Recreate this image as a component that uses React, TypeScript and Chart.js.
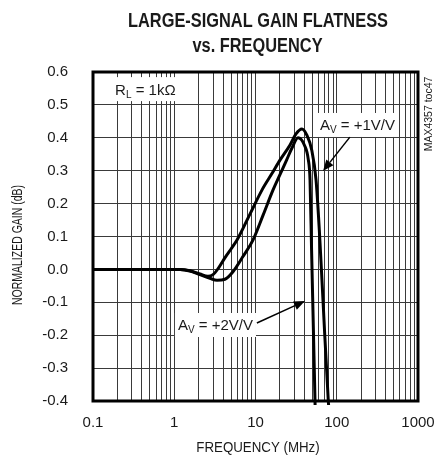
import React, { useEffect, useRef } from 'react';
import { Chart, registerables } from 'chart.js';

Chart.register(...registerables);

// ---------- text ----------
const titleLines = ['LARGE-SIGNAL GAIN FLATNESS', 'vs. FREQUENCY'];
const xAxisTitle = 'FREQUENCY (MHz)';
const yAxisTitle = 'NORMALIZED GAIN (dB)';
const sideNote = 'MAX4357 toc47';

// ---------- axes ----------
const xMin = 0.1;
const xMax = 1000;
const xDecades = [0.1, 1, 10, 100, 1000];
const xTickLabels = ['0.1', '1', '10', '100', '1000'];
const yMin = -0.4;
const yMax = 0.6;
const yStep = 0.1;

// ---------- series (frequency in MHz, gain in dB) ----------
const av1Freq = [0.1, 0.3, 1, 1.18, 1.56, 2.07, 2.6, 3.0, 3.5, 4.2, 5.0, 5.92, 8.55, 12.0, 16.0, 20.0, 26.6, 31.5, 37.3, 42.7, 49.2, 55.6, 61.0, 67.7, 78.7, 80.5];
const av1Gain = [0, 0, 0, 0, -0.004, -0.014, -0.021, -0.016, 0.004, 0.035, 0.062, 0.089, 0.168, 0.241, 0.292, 0.332, 0.378, 0.412, 0.427, 0.409, 0.363, 0.272, 0.12, -0.093, -0.4, -0.43];

const av2Freq = [0.1, 0.3, 1, 1.18, 1.56, 2.07, 2.75, 3.36, 4.21, 5.28, 7.0, 9.3, 12.4, 16.4, 20.0, 24.2, 28.1, 33.4, 39.9, 44.7, 46.9, 49.0, 51.6, 54.0, 54.4];
const av2Gain = [0, 0, 0, 0, -0.005, -0.016, -0.027, -0.033, -0.03, -0.007, 0.039, 0.089, 0.165, 0.241, 0.288, 0.333, 0.369, 0.4, 0.378, 0.333, 0.272, 0.059, -0.184, -0.4, -0.43];

// ---------- annotations (anchored in data coordinates) ----------
const labelRL = { main: 'R', sub: 'L', rest: ' = 1k\u03A9', x: 0.187, y: 0.548 };
const labelAV1 = { main: 'A', sub: 'V', rest: ' = +1V/V', x: 62.2, y: 0.439 };
const labelAV2 = { main: 'A', sub: 'V', rest: ' = +2V/V', x: 1.11, y: -0.169 };
const arrowAV1 = { fromX: 145, fromY: 0.402, toX: 67.8, toY: 0.299 };
const arrowAV2 = { fromX: 10.4, fromY: -0.163, toX: 40.6, toY: -0.096 };

const FF = "'Liberation Sans', Arial, Helvetica, sans-serif";
const TEXT = '#1a1a1a';

function gridValues(): number[] {
  const vals: number[] = [];
  for (let i = 0; i < xDecades.length - 1; i++) {
    for (let k = 1; k <= 9; k++) vals.push(+(xDecades[i] * k).toPrecision(6));
  }
  vals.push(xDecades[xDecades.length - 1]);
  return vals;
}

function drawScaledText(ctx: CanvasRenderingContext2D, text: string, x: number, y: number, font: string, sx: number, rot = 0) {
  ctx.save();
  ctx.font = font;
  ctx.textAlign = 'center';
  ctx.textBaseline = 'middle';
  ctx.fillStyle = TEXT;
  ctx.translate(x, y);
  if (rot) ctx.rotate(rot);
  ctx.scale(sx, 1);
  ctx.fillText(text, 0, 0);
  ctx.restore();
}

function drawSubLabel(ctx: CanvasRenderingContext2D, p: { main: string; sub: string; rest: string }, x: number, y: number) {
  ctx.save();
  ctx.textBaseline = 'alphabetic';
  ctx.textAlign = 'left';
  const big = `15px ${FF}`;
  const small = `10px ${FF}`;
  ctx.font = big;
  const w1 = ctx.measureText(p.main).width;
  ctx.font = small;
  const w2 = ctx.measureText(p.sub).width;
  ctx.font = big;
  const w3 = ctx.measureText(p.rest).width;
  const total = w1 + w2 + w3;
  const baseline = y + 5.4;
  ctx.fillStyle = '#ffffff';
  ctx.fillRect(x - 3, y - 12, total + 6, 24);
  ctx.fillStyle = TEXT;
  ctx.font = big;
  ctx.fillText(p.main, x, baseline);
  ctx.font = small;
  ctx.fillText(p.sub, x + w1, baseline + 3);
  ctx.font = big;
  ctx.fillText(p.rest, x + w1 + w2, baseline);
  ctx.restore();
}

function drawArrow(ctx: CanvasRenderingContext2D, x0: number, y0: number, x1: number, y1: number) {
  const ang = Math.atan2(y1 - y0, x1 - x0);
  const headLen = 11;
  const headHalf = 4.5;
  const bx = x1 - headLen * Math.cos(ang);
  const by = y1 - headLen * Math.sin(ang);
  ctx.save();
  ctx.strokeStyle = '#000';
  ctx.fillStyle = '#000';
  ctx.lineWidth = 1.5;
  ctx.beginPath();
  ctx.moveTo(x0, y0);
  ctx.lineTo(bx, by);
  ctx.stroke();
  ctx.beginPath();
  ctx.moveTo(x1, y1);
  ctx.lineTo(bx + headHalf * Math.sin(ang), by - headHalf * Math.cos(ang));
  ctx.lineTo(bx - headHalf * Math.sin(ang), by + headHalf * Math.cos(ang));
  ctx.closePath();
  ctx.fill();
  ctx.restore();
}

const decorPlugin = {
  id: 'decor',
  beforeDatasetsDraw(chart: any) {
    const ctx: CanvasRenderingContext2D = chart.ctx;
    const xs = chart.scales.x;
    const ys = chart.scales.y;
    for (const l of [labelRL, labelAV1, labelAV2]) {
      drawSubLabel(ctx, l, xs.getPixelForValue(l.x), ys.getPixelForValue(l.y));
    }
  },
  afterDraw(chart: any) {
    const ctx: CanvasRenderingContext2D = chart.ctx;
    const xs = chart.scales.x;
    const ys = chart.scales.y;
    const a = chart.chartArea;
    // frame
    ctx.save();
    ctx.strokeStyle = '#000';
    ctx.lineWidth = 3;
    ctx.strokeRect(a.left, a.top, a.right - a.left, a.bottom - a.top);
    ctx.restore();
    // arrows
    for (const ar of [arrowAV1, arrowAV2]) {
      drawArrow(ctx, xs.getPixelForValue(ar.fromX), ys.getPixelForValue(ar.fromY), xs.getPixelForValue(ar.toX), ys.getPixelForValue(ar.toY));
    }
    // titles
    drawScaledText(ctx, titleLines[0], 258, 22, `bold 19.5px ${FF}`, 0.84);
    drawScaledText(ctx, titleLines[1], 257.5, 47, `bold 19.5px ${FF}`, 0.84);
    // axis titles
    drawScaledText(ctx, xAxisTitle, 258, 448, `14px ${FF}`, 0.95);
    drawScaledText(ctx, yAxisTitle, 18, 245, `14px ${FF}`, 0.75, -Math.PI / 2);
    // side note
    drawScaledText(ctx, sideNote, 429, 114, `10.5px ${FF}`, 1, -Math.PI / 2);
  },
};

export default function App() {
  const ref = useRef<HTMLCanvasElement>(null);
  useEffect(() => {
    const grid = gridValues();
    const chart = new Chart(ref.current as HTMLCanvasElement, {
      type: 'line',
      data: {
        datasets: [
          {
            label: 'AV = +1V/V',
            data: av1Freq.map((f, i) => ({ x: f, y: av1Gain[i] })),
            borderColor: '#000',
            borderWidth: 3,
            pointRadius: 0,
            cubicInterpolationMode: 'monotone',
            fill: false,
            clip: { left: 0, top: 0, right: 0, bottom: 4 } as any,
          },
          {
            label: 'AV = +2V/V',
            data: av2Freq.map((f, i) => ({ x: f, y: av2Gain[i] })),
            borderColor: '#000',
            borderWidth: 3,
            pointRadius: 0,
            cubicInterpolationMode: 'monotone',
            fill: false,
            clip: { left: 0, top: 0, right: 0, bottom: 4 } as any,
          },
        ],
      },
      options: {
        responsive: false,
        animation: false,
        devicePixelRatio: 1,
        layout: { padding: { left: 0, top: 72, right: 18, bottom: 0 } },
        plugins: {
          legend: { display: false },
          title: { display: false },
          tooltip: { enabled: false },
        },
        scales: {
          x: {
            type: 'logarithmic',
            min: xMin,
            max: xMax,
            position: 'bottom',
            afterBuildTicks: (axis: any) => {
              axis.ticks = grid.map((v) => ({ value: v }));
            },
            afterFit: (axis: any) => {
              axis.height = 56;
              axis.paddingLeft = 0;
              axis.paddingRight = 0;
            },
            grid: { color: '#3a3a3a', lineWidth: 1, drawTicks: false },
            border: { display: false },
            ticks: {
              autoSkip: false,
              maxRotation: 0,
              minRotation: 0,
              padding: 13,
              color: TEXT,
              font: { family: FF, size: 15 },
              callback: (value: any) => {
                const v = Number(value);
                const idx = xDecades.findIndex((d) => Math.abs(Math.log10(d) - Math.log10(v)) < 1e-6);
                return idx >= 0 ? xTickLabels[idx] : '';
              },
            },
          },
          y: {
            type: 'linear',
            min: yMin,
            max: yMax,
            afterFit: (axis: any) => {
              axis.width = 93;
              axis.paddingTop = 0;
              axis.paddingBottom = 0;
            },
            grid: { color: '#3a3a3a', lineWidth: 1, drawTicks: false },
            border: { display: false },
            ticks: {
              stepSize: yStep,
              padding: 25,
              color: TEXT,
              font: { family: FF, size: 15 },
              callback: (value: any) => {
                const v = Number(value);
                return Math.abs(v) < 1e-9 ? '0.0' : v.toFixed(1);
              },
            },
          },
        },
      } as any,
      plugins: [decorPlugin],
    });
    return () => chart.destroy();
  }, []);
  return (
    <div style={{ position: 'absolute', left: 0, top: 0, width: 436, height: 457, background: '#ffffff' }}>
      <canvas ref={ref} width={436} height={457} style={{ display: 'block', width: 436, height: 457 }} />
    </div>
  );
}
